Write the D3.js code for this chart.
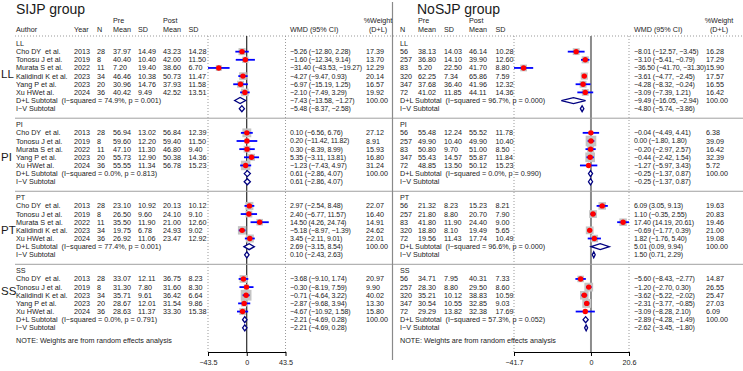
<!DOCTYPE html>
<html>
<head>
<meta charset="utf-8">
<script src="https://cdn.jsdelivr.net/npm/d3@7"></script>
<style>
body { margin: 0; background: #fff; }
svg text { font-family: "Liberation Sans", Arial, sans-serif; font-size: 7.2px; fill: #1a1a1a; white-space: pre; }
svg text.title { font-size: 14px; }
svg text.grp { font-size: 11.5px; }
svg text.wmd { font-size: 7px; letter-spacing: -0.15px; }
</style>
</head>
<body>
<div id="vis-container"></div>
<script>
// subgroups (outcomes)
const groups = ["LL", "PI", "PT", "SS"];

// SIJP rows: author, year, n, pre mean, pre sd, post mean, post sd, wmd, lo, hi, %weight
const sijpLL = [
    ["Cho DY  et al.", 2013, 28, 37.97, 14.49, 43.23, 14.28, -5.26, -12.80, 2.28, 17.39],
    ["Tonosu J et al.", 2019, 8, 40.40, 10.40, 42.00, 11.50, -1.60, -12.34, 9.14, 13.70],
    ["Murata S et al.", 2022, 11, 7.20, 19.40, 38.60, 6.70, -31.40, -43.53, -19.27, 12.29],
    ["Kalidindi K et al.", 2023, 34, 46.46, 10.38, 50.73, 11.47, -4.27, -9.47, 0.93, 20.14],
    ["Yang P et al.", 2023, 20, 30.96, 14.76, 37.93, 11.58, -6.97, -15.19, 1.25, 16.57],
    ["Xu HWet al.", 2024, 36, 40.42, 9.49, 42.52, 13.51, -2.10, -7.49, 3.29, 19.92]
];
const sijpPI = [
    ["Cho DY  et al.", 2013, 28, 56.94, 13.02, 56.84, 12.39, 0.10, -6.56, 6.76, 27.12],
    ["Tonosu J et al.", 2019, 8, 59.60, 12.20, 59.40, 11.50, 0.20, -11.42, 11.82, 8.91],
    ["Murata S et al.", 2022, 11, 47.10, 11.30, 46.80, 9.40, 0.30, -8.39, 8.99, 15.93],
    ["Yang P et al.", 2023, 20, 55.73, 12.90, 50.38, 14.36, 5.35, -3.11, 13.81, 16.80],
    ["Xu HWet al.", 2024, 36, 55.55, 11.34, 56.78, 15.23, -1.23, -7.43, 4.97, 31.24]
];
const sijpPT = [
    ["Cho DY  et al.", 2013, 28, 23.10, 10.92, 20.13, 10.12, 2.97, -2.54, 8.48, 22.07],
    ["Tonosu J et al.", 2019, 8, 26.50, 9.60, 24.10, 9.10, 2.40, -6.77, 11.57, 16.40],
    ["Murata S et al.", 2022, 11, 35.50, 11.90, 21.00, 12.60, 14.50, 4.26, 24.74, 14.91],
    ["Kalidindi K et al.", 2023, 34, 19.75, 6.78, 24.93, 9.02, -5.18, -8.97, -1.39, 24.62],
    ["Xu HWet al.", 2024, 36, 26.92, 11.06, 23.47, 12.92, 3.45, -2.11, 9.01, 22.01]
];
const sijpSS = [
    ["Cho DY  et al.", 2013, 28, 33.07, 12.11, 36.75, 8.23, -3.68, -9.10, 1.74, 20.97],
    ["Tonosu J et al.", 2019, 8, 31.30, 7.80, 31.60, 8.30, -0.30, -8.19, 7.59, 9.90],
    ["Kalidindi K et al.", 2023, 34, 35.71, 9.61, 36.42, 6.64, -0.71, -4.64, 3.22, 40.02],
    ["Yang P et al.", 2023, 20, 28.67, 12.01, 31.54, 9.86, -2.87, -9.68, 3.94, 13.30],
    ["Xu HWet al.", 2024, 36, 28.63, 11.37, 33.30, 15.38, -4.67, -10.92, 1.58, 15.80]
];
// subtotals: I-squared, p, D+L wmd, lo, hi, I-V wmd, lo, hi
const sijpSubtotals = [
    [74.9, 0.001, -7.43, -13.58, -1.27, -5.48, -8.37, -2.58],
    [0.0, 0.813, 0.61, -2.86, 4.07, 0.61, -2.86, 4.07],
    [77.4, 0.001, 2.69, -3.15, 8.54, 0.10, -2.43, 2.63],
    [0.0, 0.791, -2.21, -4.69, 0.28, -2.21, -4.69, 0.28]
];

// NoSJP rows: n, pre mean, pre sd, post mean, post sd, wmd, lo, hi, %weight
const nosjpLL = [
    [56, 38.13, 14.03, 46.14, 10.28, -8.01, -12.57, -3.45, 16.28],
    [257, 36.80, 14.10, 39.90, 12.60, -3.10, -5.41, -0.79, 17.29],
    [83, 5.20, 22.50, 41.70, 8.80, -36.50, -41.70, -31.30, 15.90],
    [320, 62.25, 7.34, 65.86, 7.59, -3.61, -4.77, -2.45, 17.57],
    [347, 37.68, 36.40, 41.96, 12.32, -4.28, -8.32, -0.24, 16.55],
    [72, 41.02, 11.85, 44.11, 14.36, -3.09, -7.39, 1.21, 16.42]
];
const nosjpPI = [
    [56, 55.48, 12.24, 55.52, 11.78, -0.04, -4.49, 4.41, 6.38],
    [257, 49.90, 10.40, 49.90, 10.40, 0.00, -1.80, 1.80, 39.09],
    [83, 50.80, 9.70, 51.00, 8.50, -0.20, -2.97, 2.57, 16.42],
    [347, 55.43, 14.57, 55.87, 11.84, -0.44, -2.42, 1.54, 32.39],
    [72, 48.85, 13.50, 50.12, 15.23, -1.27, -5.97, 3.43, 5.72]
];
const nosjpPT = [
    [56, 21.32, 8.23, 15.23, 8.21, 6.09, 3.05, 9.13, 19.63],
    [257, 21.80, 8.80, 20.70, 7.90, 1.10, -0.35, 2.55, 20.83],
    [83, 41.80, 11.90, 24.40, 9.00, 17.40, 14.19, 20.61, 19.46],
    [320, 18.80, 8.10, 19.49, 5.65, -0.69, -1.77, 0.39, 21.00],
    [72, 19.56, 11.43, 17.74, 10.49, 1.82, -1.76, 5.40, 19.08]
];
const nosjpSS = [
    [56, 34.71, 7.95, 40.31, 7.33, -5.60, -8.43, -2.77, 14.87],
    [257, 28.30, 8.80, 29.50, 8.60, -1.20, -2.70, 0.30, 26.55],
    [320, 35.21, 10.12, 38.83, 10.59, -3.62, -5.22, -2.02, 25.47],
    [347, 30.54, 10.55, 32.85, 9.03, -2.31, -3.77, -0.85, 27.03],
    [72, 29.29, 13.82, 32.38, 17.69, -3.09, -8.28, 2.10, 6.09]
];
const nosjpSubtotals = [
    [96.7, 0.000, -9.49, -16.05, -2.94, -4.80, -5.74, -3.86],
    [0.0, 0.990, -0.25, -1.37, 0.87, -0.25, -1.37, 0.87],
    [96.6, 0.000, 5.01, 0.09, 9.94, 1.50, 0.71, 2.29],
    [57.3, 0.052, -2.89, -4.28, -1.49, -2.62, -3.45, -1.80]
];

const sijpTicks = [-43.5, 0, 43.5];
const nosjpTicks = [-41.7, 0, 20.6];
const note = "NOTE: Weights are from random effects analysis";

let fmt2 = d3.format(".2f");
let fmt1 = d3.format(".1f");
let fmt3 = d3.format(".3f");

let svg = d3.select("#vis-container").append("svg")
    .attr("width", 743)
    .attr("height", 371);

// row layout (shared by both panels)
let rowH = 8.15, gap = 16, top0 = 43.5;
let starts = [];
let yy = top0;
sijpSubtotals.forEach((s, i) => {
    starts.push(yy);
    yy += ([sijpLL, sijpPI, sijpPT, sijpSS][i].length + 2) * rowH + gap;
});
let axisY = 352, headLine = 36;

let panels = [
    {title: "SIJP group", titleX: 16, x0: 15, x1: 392, textX: 16,
     heads: [["Author"], ["Year"], ["N"], ["Pre", "Mean"], ["SD"], ["Post", "Mean"], ["SD"]],
     cols: [16, 74, 97, 113, 138, 163, 188.5], wmdX: 290, wX: 366, wHeadX: 378,
     range: [208, 285.5], ticks: sijpTicks, rows: [sijpLL, sijpPI, sijpPT, sijpSS], subs: sijpSubtotals,
     zeroColor: "#000", zeroW: 1, author: true},
    {title: "NoSJP group", titleX: 417, x0: 393, x1: 743, textX: 400,
     heads: [["N"], ["Pre", "Mean"], ["SD"], ["Post", "Mean"], ["SD"]],
     cols: [400, 418, 444, 469, 495.5], wmdX: 634, wX: 706, wHeadX: 719,
     range: [514, 629], ticks: nosjpTicks, rows: [nosjpLL, nosjpPI, nosjpPT, nosjpSS], subs: nosjpSubtotals,
     zeroColor: "#8c8c8c", zeroW: 2, author: false}
];

// divider between the two graphs
svg.append("line").attr("x1", 392.5).attr("x2", 392.5).attr("y1", 2).attr("y2", 360)
    .attr("stroke", "#8a8a8a").attr("stroke-width", 1.2);

panels.forEach(p => {
    let g = svg.append("g");
    let x = d3.scaleLinear().domain([p.ticks[0], p.ticks[p.ticks.length - 1]]).range(p.range);

    g.append("text").attr("class", "title").attr("x", p.titleX).attr("y", 14).text(p.title);

    // header
    p.heads.forEach((h, i) => {
        h.forEach((t, j) => {
            g.append("text").attr("x", p.cols[i]).attr("y", h.length == 2 ? 23 + j * 8.5 : 31.5).text(t);
        });
    });
    g.append("text").attr("x", p.wmdX).attr("y", 31.5).text("WMD (95% CI)");
    g.append("text").attr("x", p.wHeadX).attr("y", 23).attr("text-anchor", "middle").text("%Weight");
    g.append("text").attr("x", p.wHeadX).attr("y", 31.5).attr("text-anchor", "middle").text("(D+L)");

    g.append("line").attr("x1", p.x0).attr("x2", p.x1).attr("y1", headLine).attr("y2", headLine)
        .attr("stroke", "#999").attr("stroke-dasharray", "1,2");

    // plot region borders + zero line
    p.range.forEach(r => {
        g.append("line").attr("x1", r).attr("x2", r).attr("y1", headLine).attr("y2", axisY)
            .attr("stroke", "#999").attr("stroke-dasharray", "1,2");
    });
    g.append("line").attr("x1", x(0)).attr("x2", x(0)).attr("y1", headLine).attr("y2", axisY)
        .attr("stroke", p.zeroColor).attr("stroke-width", p.zeroW);

    groups.forEach((grp, gi) => {
        let rows = p.rows[gi];
        let sub = p.subs[gi];
        let y0 = starts[gi];
        let yRow = i => y0 + i * rowH;

        g.append("text").attr("x", p.textX).attr("y", yRow(0)).attr("dy", "0.35em").text(grp);

        // big subgroup label on far left (left graph only)
        if (p.author) {
            let off = [3.8, 4, 4, 2.5][gi];
            g.append("text").attr("class", "grp").attr("x", 1).attr("y", yRow(off)).attr("dy", "0.35em").text(grp);
        }

        rows.forEach((d, i) => {
            let y = yRow(i + 1);
            let cells = p.author
                ? [d[0], d[1], d[2], fmt2(d[3]), fmt2(d[4]), fmt2(d[5]), fmt2(d[6])]
                : [d[0], fmt2(d[1]), fmt2(d[2]), fmt2(d[3]), fmt2(d[4])];
            let k = p.author ? 7 : 5;
            let est = d[k], lo = d[k + 1], hi = d[k + 2], w = d[k + 3];
            cells.forEach((c, ci) => {
                g.append("text").attr("x", p.cols[ci]).attr("y", y).attr("dy", "0.35em").text(c);
            });
            g.append("text").attr("class", "wmd").attr("x", p.wmdX).attr("y", y).attr("dy", "0.35em")
                .text(fmt2(est) + " (" + fmt2(lo) + ", " + fmt2(hi) + ")");
            g.append("text").attr("x", p.wX).attr("y", y).attr("dy", "0.35em").text(fmt2(w));

            // weight box, CI line, point
            let s = 1.7 * Math.sqrt(w);
            g.append("rect").attr("x", x(est) - s / 2).attr("y", y - s / 2).attr("width", s).attr("height", s)
                .attr("fill", "#c4c4c4");
            g.append("line").attr("x1", x(lo)).attr("x2", x(hi)).attr("y1", y).attr("y2", y)
                .attr("stroke", "#0000ff").attr("stroke-width", 1.8);
            g.append("circle").attr("cx", x(est)).attr("cy", y).attr("r", 2.7).attr("fill", "#ff0000");
        });

        // subtotals
        let yDL = yRow(rows.length + 1), yIV = yRow(rows.length + 2);
        g.append("text").attr("x", p.textX).attr("y", yDL).attr("dy", "0.35em")
            .text("D+L Subtotal  (I\u2212squared = " + fmt1(sub[0]) + "%, p = " + fmt3(sub[1]) + ")");
        g.append("text").attr("x", p.textX).attr("y", yIV).attr("dy", "0.35em").text("I\u2212V Subtotal");
        g.append("text").attr("class", "wmd").attr("x", p.wmdX).attr("y", yDL).attr("dy", "0.35em")
            .text(fmt2(sub[2]) + " (" + fmt2(sub[3]) + ", " + fmt2(sub[4]) + ")");
        g.append("text").attr("x", p.wX).attr("y", yDL).attr("dy", "0.35em").text("100.00");
        g.append("text").attr("class", "wmd").attr("x", p.wmdX).attr("y", yIV).attr("dy", "0.35em")
            .text(fmt2(sub[5]) + " (" + fmt2(sub[6]) + ", " + fmt2(sub[7]) + ")");

        [[yDL, sub[2], sub[3], sub[4]], [yIV, sub[5], sub[6], sub[7]]].forEach(dm => {
            let hh = 3;
            g.append("polygon")
                .attr("points", [[x(dm[2]), dm[0]], [x(dm[1]), dm[0] - hh], [x(dm[3]), dm[0]], [x(dm[1]), dm[0] + hh]].join(" "))
                .attr("fill", "#fff").attr("stroke", "#000080").attr("stroke-width", 1.3);
        });

        // separator between groups
        if (gi < groups.length - 1) {
            g.append("line").attr("x1", p.x0).attr("x2", p.x1).attr("y1", yIV + 9.5).attr("y2", yIV + 9.5)
                .attr("stroke", "#a0a0a0");
        }
        if (gi == groups.length - 1) {
            g.append("text").attr("x", p.textX).attr("y", yIV + 13).attr("dy", "0.35em").text(note);
        }
    });

    // x axis
    g.append("g")
        .attr("transform", "translate(0," + axisY + ")")
        .call(d3.axisBottom(x).tickValues(p.ticks).tickSize(4).tickSizeOuter(0).tickFormat(d3.format("~g")))
        .call(a => a.selectAll("text").attr("dy", "0.9em"));
});
</script>
</body>
</html>
